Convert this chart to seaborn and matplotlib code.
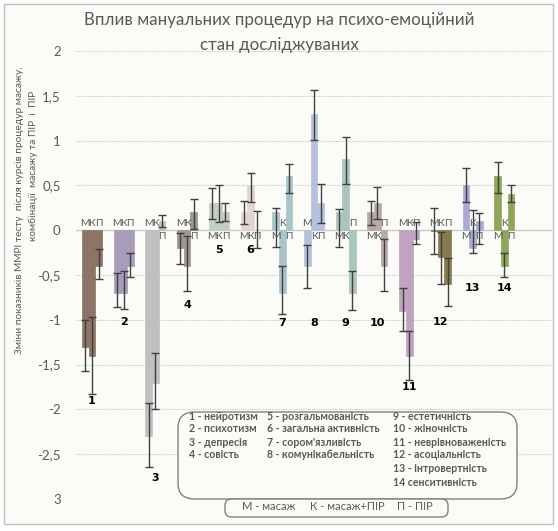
import numpy as np
import pandas as pd
import matplotlib
matplotlib.use("Agg")
import matplotlib.pyplot as plt
import seaborn as sns
from matplotlib.patches import FancyBboxPatch, Rectangle

# ---------------- data ----------------
groups = [str(i) for i in range(1, 15)]
series = ["М", "К", "П"]

m_vals = [-1.3, -0.7, -2.3, -0.2, 0.3, 0.2, 0.2, -0.4, 0.2, 0.2, -0.9, -0.01, 0.5, 0.6]
k_vals = [-1.4, -0.7, -1.7, -0.4, 0.3, 0.5, -0.7, 1.3, 0.8, 0.3, -1.4, -0.3, -0.2, -0.4]
p_vals = [-0.4, -0.4, 0.1, 0.2, 0.2, 0.0, 0.6, 0.3, -0.7, -0.4, -0.1, -0.6, 0.1, 0.4]

# error bar end points (low / high) per series
m_lo = [-1.57, -0.86, -2.64, -0.38, 0.13, 0.07, -0.19, -0.64, -0.19, 0.06, -1.12, -0.27, 0.32, 0.41]
m_hi = [-1.00, -0.48, -1.93, -0.03, 0.47, 0.33, 0.25, -0.16, 0.24, 0.33, -0.64, 0.25, 0.69, 0.76]
k_lo = [-1.83, -0.88, -1.99, -0.68, 0.09, 0.31, -0.94, 1.01, 0.52, 0.12, -1.67, -0.60, -0.26, -0.52]
k_hi = [-0.97, -0.45, -1.37, -0.06, 0.51, 0.64, -0.40, 1.56, 1.04, 0.48, -1.12, -0.02, 0.23, -0.25]
p_lo = [-0.54, -0.52, 0.04, 0.01, 0.10, -0.20, 0.42, 0.08, -0.89, -0.68, -0.15, -0.85, -0.15, 0.31]
p_hi = [-0.21, -0.25, 0.175, 0.35, 0.30, 0.21, 0.74, 0.52, -0.46, -0.10, 0.09, -0.31, 0.19, 0.51]

group_colors = ["#8c7566", "#a99cb8", "#c0c0c0", "#9f9393", "#c4cdc4", "#e1d6d3", "#a9c3cb",
                "#b5c1da", "#a9c5be", "#b9a7a9", "#bfa4c0", "#857b4e", "#aaaad4", "#8ea65a"]

# y position (data units) of the bold group number labels
number_label_y = [-1.91, -1.02, -2.77, -0.84, -0.22, -0.22, -1.04, -1.04, -1.04, -1.04,
                  -1.75, -1.03, -0.64, -0.64]

ytick_values = [2, 1.5, 1, 0.5, 0, -0.5, -1, -1.5, -2, -2.5, -3]
ytick_labels = ["2", "1,5", "1", "0,5", "0", "-0,5", "-1", "-1,5", "-2", "-2,5", "3"]

title_lines = ["Вплив мануальних процедур на психо-емоційний", "стан досліджуваних"]
ylabel_lines = ["Зміни показників ММРІ тесту  після курсів процедур масажу,",
                "комбінації  масажу та ПІР  і  ПІР"]

legend_col1 = ["1 - нейротизм", "2 - психотизм", "3 - депресія", "4 - совість"]
legend_col2 = ["5 - розгальмованість", "6 - загальна активність", "7 - сором'язливість",
               "8 - комунікабельність"]
legend_col3 = ["9 - естетичність", "10 - жіночність", "11 - неврівноваженість",
               "12 - асоціальність", "13 - інтровертність", "14 сенситивність"]
series_legend = ["М - масаж", "К - масаж+ПІР", "П - ПІР"]

# ---------------- build table ----------------
rows = []
for s, vals in zip(series, [m_vals, k_vals, p_vals]):
    for g, v in zip(groups, vals):
        rows.append({"group": g, "series": s, "value": v})
df = pd.DataFrame(rows)

sns.set_theme(style="white")
plt.rcParams["font.family"] = ["Lato", "DejaVu Sans"]

W, H = 558, 531
fig = plt.figure(figsize=(W / 100, H / 100), dpi=100)
fig.patch.set_facecolor("white")
bg = "#fbfbf7"
txt = "#595959"

def fx(px):
    return px / W

def fy(py):
    return 1 - py / H

fig.patches.append(Rectangle((fx(4), fy(524)), fx(549), 520 / H, transform=fig.transFigure,
                             facecolor=bg, edgecolor="#c0c0c0", lw=1, zorder=-10))

ax = fig.add_axes([fx(76), fy(499), (552 - 76) / W, 448 / H])
ax.set_facecolor("none")

sns.barplot(data=df, x="group", y="value", hue="series", order=groups, hue_order=series,
            width=0.63, errorbar=None, legend=False, ax=ax, zorder=2)

bar_containers = list(ax.containers)
los = [m_lo, k_lo, p_lo]
his = [m_hi, k_hi, p_hi]
for si, cont in enumerate(bar_containers):
    xs = []
    for j, bar in enumerate(cont):
        bar.set_facecolor(group_colors[j])
        bar.set_edgecolor(group_colors[j])
        bar.set_linewidth(0.5)
        x = bar.get_x() + bar.get_width() / 2
        xs.append(x)
        v = bar.get_height()
        if v < 0:
            ax.annotate(series[si], (x, 0), xytext=(0, 1.5), textcoords="offset points",
                        ha="center", va="bottom", fontsize=7.4, color=txt, zorder=4)
        else:
            ax.annotate(series[si], (x, 0), xytext=(0, -1.5), textcoords="offset points",
                        ha="center", va="top", fontsize=7.4, color=txt, zorder=4)
    lo = np.array(los[si])
    hi = np.array(his[si])
    ax.errorbar(xs, (lo + hi) / 2, yerr=(hi - lo) / 2, fmt="none", ecolor="#404040",
                elinewidth=1, capsize=3, capthick=1, zorder=3)

for i, yv in enumerate(number_label_y):
    ax.text(i, yv, groups[i], ha="center", va="center", fontsize=8, fontweight="bold",
            color="black", family="DejaVu Sans", zorder=4)

ax.set_xlim(-0.5, 14.5)
ax.set_ylim(-3, 2)
ax.set_yticks(ytick_values)
ax.set_yticklabels(ytick_labels)
ax.set_xticks([])
ax.set_xlabel("")
ax.set_ylabel("")
ax.tick_params(axis="y", length=0, pad=11, labelsize=9.5, labelcolor=txt)
ax.yaxis.grid(True, color="#c8c8c8", linestyle=(0, (1, 1)), lw=0.8)
ax.set_axisbelow(True)
ax.axhline(0, color="#cccccc", lw=1, zorder=1)
for sp in ax.spines.values():
    sp.set_visible(False)

# title
fig.text(fx(279), fy(20), title_lines[0], ha="center", va="center", fontsize=12.2, color=txt)
fig.text(fx(279), fy(45), title_lines[1], ha="center", va="center", fontsize=12.2, color=txt)

# y label
fig.text(fx(20), fy(210), ylabel_lines[0], rotation=90, ha="center", va="center",
         fontsize=7.3, color=txt)
fig.text(fx(33), fy(166), ylabel_lines[1], rotation=90, ha="center", va="center",
         fontsize=7.3, color=txt)

# legend boxes
fig.patches.append(FancyBboxPatch((fx(178), fy(499)), (517 - 178) / W, 87 / H,
                                  boxstyle="round,pad=0,rounding_size=0.03",
                                  transform=fig.transFigure, facecolor=bg,
                                  edgecolor="#808080", lw=1, zorder=1))
fig.patches.append(FancyBboxPatch((fx(225), fy(517)), (448 - 225) / W, 18 / H,
                                  boxstyle="round,pad=0,rounding_size=0.012",
                                  transform=fig.transFigure, facecolor=bg,
                                  edgecolor="#808080", lw=1, zorder=1))

row_y = [416, 429, 443, 455, 469, 482]
for col, cx in zip([legend_col1, legend_col2, legend_col3], [189, 267, 393]):
    for r, item in enumerate(col):
        fig.text(fx(cx), fy(row_y[r]), item, ha="left", va="center", fontsize=7.6,
                 color=txt, fontweight="bold")

for item, cx in zip(series_legend, [242, 310, 397]):
    fig.text(fx(cx), fy(507), item, ha="left", va="center", fontsize=8, color=txt)

fig.savefig("out.png", dpi=100, facecolor="white")
